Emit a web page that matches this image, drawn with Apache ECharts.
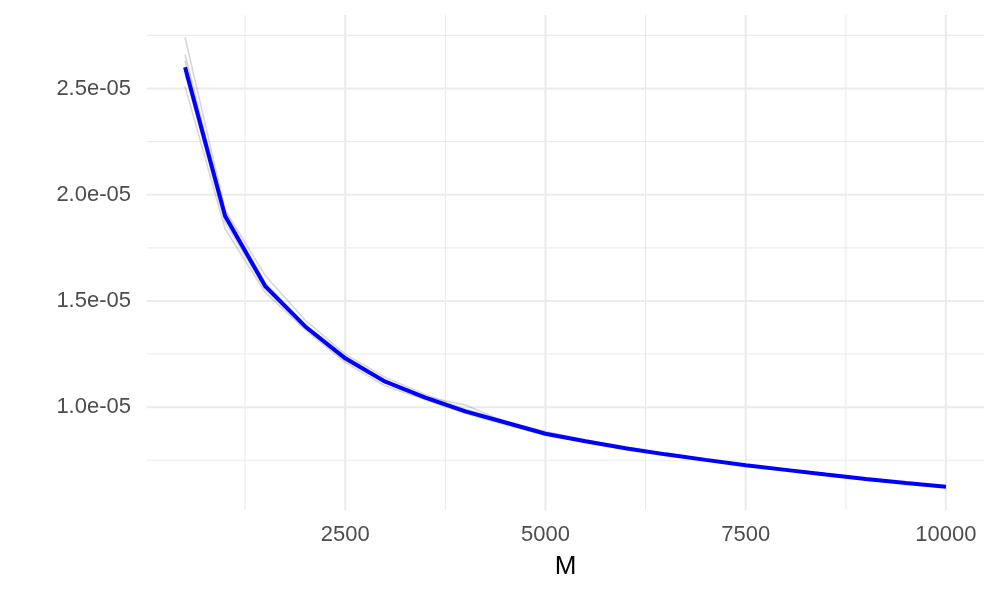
<!DOCTYPE html>
<html>
<head>
<meta charset="utf-8">
<script src="https://cdn.jsdelivr.net/npm/echarts@6/dist/echarts.min.js"></script>
<style>
  html, body { margin: 0; padding: 0; background: #fff; }
  #chart { width: 1000px; height: 600px; }
</style>
</head>
<body>
<div id="chart"></div>
<script>
// M values (x)
const mValues = [500, 1000, 1500, 2000, 2500, 3000, 3500, 4000, 4500, 5000,
                 5500, 6000, 6500, 7000, 7500, 8000, 8500, 9000, 9500, 10000];

// mean curve (blue), in units of 1e-05
const meanCurve = [2.60, 1.90, 1.57, 1.38, 1.23, 1.12, 1.045, 0.98, 0.928, 0.875,
                   0.840, 0.807, 0.778, 0.752, 0.727, 0.705, 0.683, 0.662, 0.643, 0.625];

// replicate curves (grey), in units of 1e-05
const rep1 = [2.74, 1.93, 1.62, 1.41, 1.25, 1.14, 1.06, 0.99, 0.935, 0.885,
              0.845, 0.810, 0.782, 0.755, 0.730, 0.707, 0.685, 0.664, 0.645, 0.627];
const rep2 = [2.66, 1.91, 1.58, 1.385, 1.235, 1.125, 1.05, 1.01, 0.930, 0.878,
              0.842, 0.809, 0.779, 0.753, 0.728, 0.706, 0.684, 0.663, 0.644, 0.626];
const rep3 = [2.51, 1.84, 1.54, 1.365, 1.21, 1.10, 1.035, 0.97, 0.918, 0.868,
              0.834, 0.800, 0.772, 0.748, 0.722, 0.700, 0.679, 0.659, 0.640, 0.622];
const rep4 = [2.57, 1.87, 1.555, 1.375, 1.22, 1.115, 1.04, 0.975, 0.925, 0.872,
              0.838, 0.805, 0.775, 0.750, 0.725, 0.703, 0.681, 0.661, 0.642, 0.624];
const rep5 = [2.63, 1.92, 1.585, 1.39, 1.24, 1.125, 1.05, 0.985, 0.930, 0.878,
              0.843, 0.810, 0.781, 0.755, 0.730, 0.708, 0.686, 0.664, 0.645, 0.627];
const replicates = [rep1, rep2, rep3, rep4, rep5];

// axis breaks
const xMajor = [2500, 5000, 7500, 10000];
const xMinor = [1250, 3750, 6250, 8750];
const yMajor = [1.0e-5, 1.5e-5, 2.0e-5, 2.5e-5];
const yMinor = [0.75e-5, 1.25e-5, 1.75e-5, 2.25e-5, 2.75e-5];

const SCALE = 1e-5;
const toPairs = arr => mValues.map((m, i) => [m, arr[i] * SCALE]);

// ggplot-like 5% expansion
const allY = [meanCurve].concat(replicates).flat().map(v => v * SCALE);
const yLo = Math.min(...allY), yHi = Math.max(...allY);
const xLo = Math.min(...mValues), xHi = Math.max(...mValues);
const yPad = (yHi - yLo) * 0.05, xPad = (xHi - xLo) * 0.05;

const fmtSci = v => v.toExponential(1).replace(/e([+-])(\d)$/, 'e$10$2');

const gridCol = '#ebebeb';

// panel grid lines, drawn through the axes' own scales
function vGrid(params, api) {
  const cs = params.coordSys;
  const v = api.value(0);
  const x = api.coord([v, yLo])[0];
  return {
    type: 'line',
    shape: { x1: x, y1: cs.y, x2: x, y2: cs.y + cs.height },
    style: { stroke: gridCol, lineWidth: xMajor.includes(v) ? 2.1 : 1.1 }
  };
}
function hGrid(params, api) {
  const cs = params.coordSys;
  const v = api.value(1);
  const y = api.coord([xLo, v])[1];
  return {
    type: 'line',
    shape: { x1: cs.x, y1: y, x2: cs.x + cs.width, y2: y },
    style: { stroke: gridCol, lineWidth: yMajor.includes(v) ? 2.1 : 1.1 }
  };
}

const series = [
  {
    name: 'vgrid', type: 'custom', silent: true, z: 1, clip: false,
    renderItem: vGrid,
    data: xMinor.concat(xMajor).map(v => [v, yLo])
  },
  {
    name: 'hgrid', type: 'custom', silent: true, z: 1, clip: false,
    renderItem: hGrid,
    data: yMinor.concat(yMajor).map(v => [xLo, v])
  }
];

replicates.forEach((r, i) => {
  series.push({
    name: 'rep' + (i + 1),
    type: 'line',
    data: toPairs(r),
    showSymbol: false,
    z: 2,
    lineStyle: { color: 'rgba(140,140,140,0.35)', width: 1.6 }
  });
});

series.push({
  name: 'mean',
  type: 'line',
  data: toPairs(meanCurve),
  showSymbol: false,
  z: 3,
  lineStyle: { color: '#0000ff', width: 4 }
});

const chart = echarts.init(document.getElementById('chart'));
chart.setOption({
  animation: false,
  backgroundColor: '#ffffff',
  textStyle: { fontFamily: 'Liberation Sans, Arial, sans-serif' },
  grid: { left: 147, right: 16, top: 15, bottom: 90 },
  xAxis: {
    type: 'value',
    min: xLo - xPad,
    max: xHi + xPad,
    name: 'M',
    nameLocation: 'middle',
    nameGap: 44,
    nameTextStyle: { fontSize: 26, color: '#000' },
    axisLine: { show: false },
    axisTick: { show: false },
    splitLine: { show: false },
    axisLabel: {
      customValues: xMajor,
      formatter: v => String(v),
      fontSize: 22,
      color: '#4d4d4d',
      margin: 14
    }
  },
  yAxis: {
    type: 'value',
    min: yLo - yPad,
    max: yHi + yPad,
    axisLine: { show: false },
    axisTick: { show: false },
    splitLine: { show: false },
    axisLabel: {
      customValues: yMajor,
      formatter: fmtSci,
      fontSize: 22,
      color: '#4d4d4d',
      margin: 16
    }
  },
  series: series
});
</script>
</body>
</html>
